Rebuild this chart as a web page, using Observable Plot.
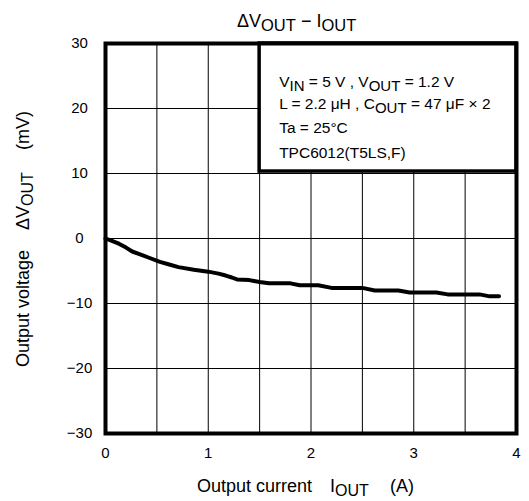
<!DOCTYPE html>
<html><head><meta charset="utf-8">
<script src="https://cdn.jsdelivr.net/npm/d3@7"></script>
<script src="https://cdn.jsdelivr.net/npm/@observablehq/plot@0.6"></script>
<style>body{margin:0;background:#fff} svg text{white-space:pre}</style>
</head><body><div id="chart"></div>
<script>
// Output current IOUT (A)
const current = [0, 0.05, 0.13, 0.2, 0.26, 0.33, 0.43, 0.53, 0.62, 0.71, 0.86, 1.0, 1.1, 1.17, 1.23, 1.28, 1.4, 1.5, 1.59, 1.8, 1.89, 2.07, 2.2, 2.5, 2.62, 2.85, 2.96, 3.22, 3.33, 3.64, 3.74, 3.83];
// Output voltage change ΔVOUT (mV)
const deltaV = [0, -0.3, -0.8, -1.4, -2.0, -2.4, -3.0, -3.6, -4.0, -4.4, -4.8, -5.1, -5.4, -5.7, -6.0, -6.3, -6.4, -6.7, -6.9, -6.9, -7.2, -7.2, -7.6, -7.6, -8.0, -8.0, -8.3, -8.3, -8.6, -8.6, -8.9, -8.9];
const xTicks = [0, 1, 2, 3, 4];
const xGrid = [0, 0.5, 1, 1.5, 2, 2.5, 3, 3.5, 4];
const yTicks = [-30, -20, -10, 0, 10, 20, 30];
const legendLines = [
  [["V", 0], ["IN", 1], [" = 5 V , V", 0], ["OUT", 1], [" = 1.2 V", 0]],
  [["L = 2.2 μH , C", 0], ["OUT", 1], [" = 47 μF × 2", 0]],
  [["Ta = 25°C", 0]],
  [["TPC6012(T5LS,F)", 0]]
];

const data = current.map((c, i) => ({c, v: deltaV[i]}));
const fmt = d => d < 0 ? "\u2212" + Math.abs(d) : String(d);
const FONT = "'Liberation Sans', Arial, Helvetica, sans-serif";

const plot = Plot.plot({
  width: 529, height: 501,
  marginLeft: 105, marginRight: 13, marginTop: 43, marginBottom: 68,
  style: {fontFamily: FONT, fontSize: "15px", color: "#000", background: "#fff"},
  x: {domain: [0, 4]},
  y: {domain: [-30, 30]},
  marks: [
    Plot.ruleX(xGrid, {stroke: "#000", strokeWidth: 1}),
    Plot.ruleY(yTicks, {stroke: "#000", strokeWidth: 1}),
    Plot.line(data, {x: "c", y: "v", stroke: "#000", strokeWidth: 4, strokeLinejoin: "round", strokeLinecap: "round"}),
    Plot.rect([{x1: 1.5, x2: 4, y1: 10.3, y2: 30}], {x1: "x1", x2: "x2", y1: "y1", y2: "y2", fill: "white", fillOpacity: 1, stroke: "#000", strokeWidth: 3.5}),
    Plot.frame({stroke: "#000", strokeWidth: 4}),
    Plot.axisX(xTicks, {tickSize: 0, tickPadding: 14, fontSize: 15, label: null, tickFormat: fmt}),
    Plot.axisY(yTicks, {tickSize: 0, tickPadding: 26, textAnchor: "middle", fontSize: 15, label: null, tickFormat: fmt})
  ]
});
document.getElementById("chart").appendChild(plot);

const svg = d3.select(plot);
const xs = plot.scale("x");

function rich(sel, parts, size, subSize, shift) {
  let down = false;
  parts.forEach(([t, sub]) => {
    const ts = sel.append("tspan").text(t);
    if (sub && !down) { ts.attr("dy", shift).attr("font-size", subSize); down = true; }
    else if (sub) { ts.attr("font-size", subSize); }
    else if (!sub && down) { ts.attr("dy", -shift).attr("font-size", size); down = false; }
    else { ts.attr("font-size", size); }
  });
}

const layer = svg.append("g").attr("text-anchor", "start").attr("font-family", FONT).attr("fill", "#000");

// Title
const title = layer.append("text").attr("x", 237).attr("y", 27);
rich(title, [["ΔV", 0], ["OUT", 1], [" \u2212 I", 0], ["OUT", 1]], 18, 16.5, 4);

// Legend text
const lx = xs.apply(1.5) + 20;
const baselines = [87, 109, 133, 158];
legendLines.forEach((line, i) => {
  const t = layer.append("text").attr("x", lx).attr("y", baselines[i]);
  rich(t, line, 15.5, 15, 3.5);
});

// X label
const xl = layer.append("text").attr("y", 492).attr("font-size", 18);
xl.append("tspan").attr("x", 197).text("Output current");
xl.append("tspan").attr("x", 330).text("I");
xl.append("tspan").attr("dy", 4).attr("font-size", 16).text("OUT");
xl.append("tspan").attr("x", 390).attr("dy", -4).text("(A)");

// Y label
const yl = layer.append("text").attr("transform", "translate(29,367) rotate(-90)").attr("font-size", 18);
yl.append("tspan").attr("x", 0).text("Output voltage");
yl.append("tspan").attr("x", 137).text("ΔV");
yl.append("tspan").attr("dy", 4).attr("font-size", 16).text("OUT");
yl.append("tspan").attr("x", 217).attr("dy", -4).text("(mV)");
</script>
</body></html>
